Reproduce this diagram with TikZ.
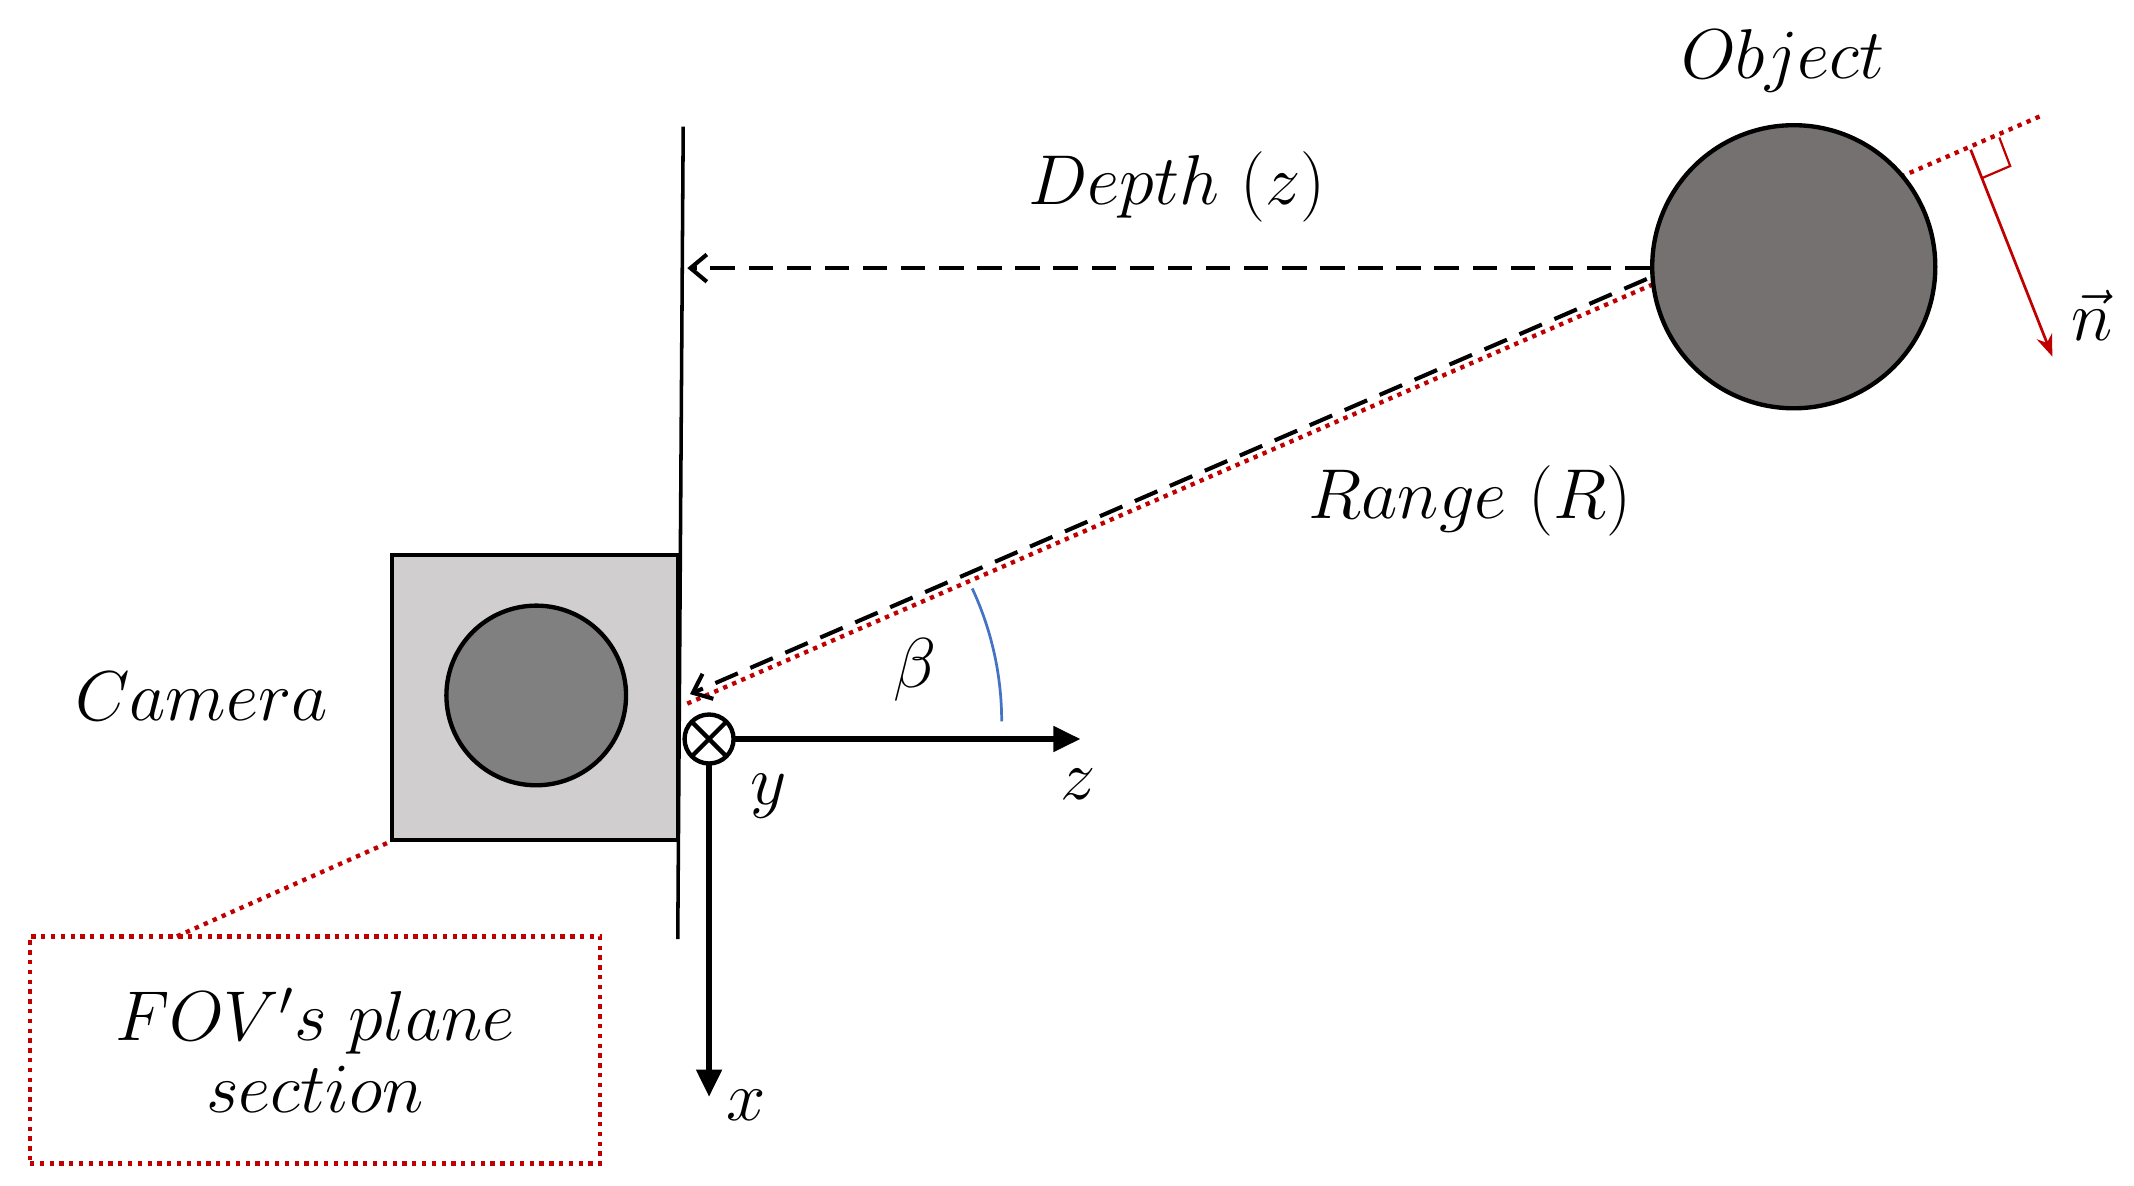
\documentclass[tikz,border=0pt]{standalone}
\usetikzlibrary{arrows.meta,calc}
\definecolor{objg}{HTML}{767171}
\definecolor{camg}{HTML}{808080}
\definecolor{boxg}{HTML}{D0CECE}
\definecolor{dred}{HTML}{C00000}
\definecolor{arcb}{HTML}{4472C4}
\begin{document}
\begin{tikzpicture}[x=0.5pt,y=-0.5pt,
  lab/.style={font=\huge,scale=1.25},
  thk/.style={line width=1.6pt},
  reddot/.style={dred,dotted,line width=1.6pt}]
\useasboundingbox (0,0) rectangle (1568,871);
% FOV plane line
\coordinate (vt) at (502,93); \coordinate (vb) at (498,690);
\draw[line width=1.3pt] (vt) -- (vb);
% camera
\node[draw,thk,fill=boxg,minimum width=105pt,minimum height=104.5pt,inner sep=0] (cam) at (393,512.5) {};
\node[draw,thk,fill=camg,circle,minimum size=66pt,inner sep=0] (lens) at (394,511) {};
\node[lab] (camlab) at (148,512) {$Camera$};
% rays
\coordinate (c0) at (505,517); \coordinate (rfar) at (1500,85);
\draw[reddot] (c0) -- (rfar);
\coordinate (rs) at (1210,205); \coordinate (re) at (507,510);
\draw[dashed,line width=1.5pt,dash pattern=on 9pt off 5pt,-{Straight Barb[length=6pt,width=10pt]}] (rs) -- (re);
\coordinate (ds) at (1212,197); \coordinate (de) at (505,197);
\draw[dashed,line width=1.5pt,dash pattern=on 9pt off 5pt,-{Straight Barb[length=6pt,width=10pt]}] (ds) -- (de);
% object
\node[draw,thk,fill=objg,circle,minimum size=104pt,inner sep=0] (obj) at (1318,196) {};
\node[lab] (objlab) at (1310,45) {$Object$};
\node[lab] (dlab) at (865,137) {$Depth\ (z)$};
\node[lab] (rlab) at (1080,368) {$Range\ (R)$};
% normal
\coordinate (ns) at (1448,110); \coordinate (ne) at (1508,262);
\draw[dred,line width=1pt,-{Stealth[length=8pt,width=6pt]}] (ns) -- (ne);
\coordinate (m1) at (1456,131); \coordinate (m2) at (1477,122); \coordinate (m3) at (1469,101);
\draw[dred,line width=0.8pt] (m1) -- (m2) -- (m3);
\node[lab] (nlab) at (1537,232) {$\vec n$};
% axes
\coordinate (o) at (521,543);
\coordinate (zend) at (794,543); \coordinate (xend) at (521,806);
\draw[line width=2.2pt,-{Triangle[length=10pt,width=9pt]}] (o) -- (zend);
\draw[line width=2.2pt,-{Triangle[length=10pt,width=9pt]}] (o) -- (xend);
\node[draw,line width=1.6pt,fill=white,circle,minimum size=18pt,inner sep=0] (yax) at (o) {};
\draw[line width=1.6pt] ($(o)+(-12,-12)$) -- ($(o)+(12,12)$);
\draw[line width=1.6pt] ($(o)+(-12,12)$) -- ($(o)+(12,-12)$);
\node[lab] (ylab) at (565,585) {$y$};
\node[lab] (zlab) at (792,576) {$z$};
\node[lab] (xlab) at (548,812) {$x$};
% beta
\draw[arcb,line width=1pt] (736,530) arc[start angle=0,end angle=-25,radius=231];
\node[lab] (blab) at (672,492) {$\beta$};
% FOV box
\node[reddot,draw,minimum width=209.5pt,minimum height=83.5pt,inner sep=0] (fov) at (231.5,771.5) {};
\node[lab,align=center] (fovt) at (fov) {$FOV's\ plane$\\[-4pt]$section$};
\coordinate (fl) at (130,688);
\draw[reddot] (fl) -- (cam.south west);
\end{tikzpicture}
\end{document}
